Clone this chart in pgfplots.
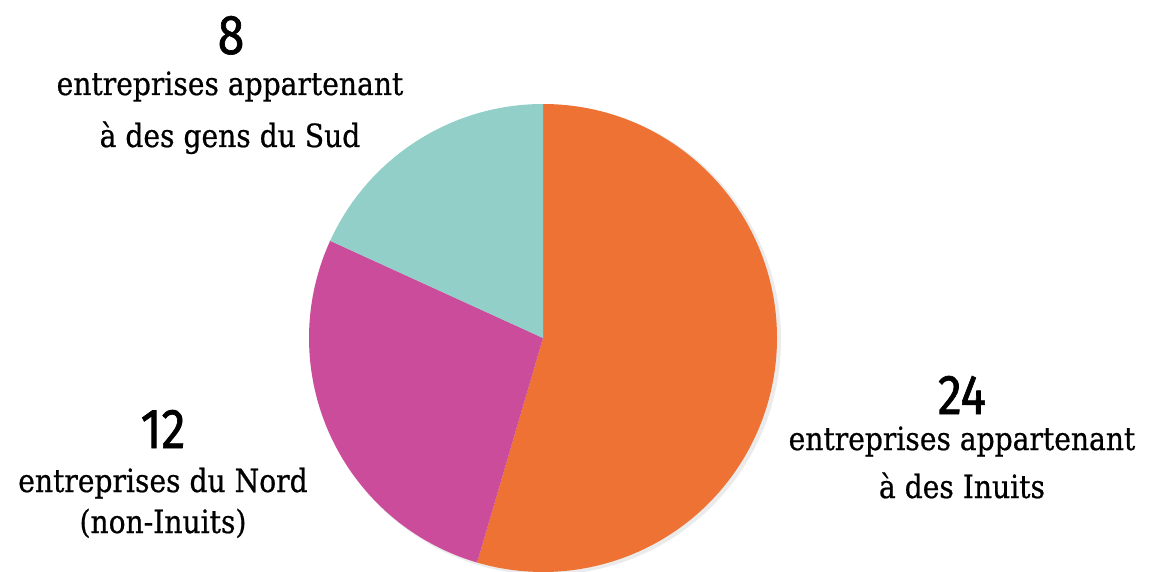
\documentclass[border=0pt]{standalone}
\usepackage{pgfplots}
\usepackage{pgfplotstable}
\pgfplotsset{compat=1.18}
\usepackage{fontspec}
\setmainfont{DejaVu Serif}[FakeStretch=0.88, FakeBold=0.6]
\newfontfamily\numfont{Fira Sans}[FakeStretch=0.86, FakeBold=1.2]

\definecolor{pieorange}{RGB}{237,114,52}
\definecolor{piemagenta}{RGB}{204,76,156}
\definecolor{pieteal}{RGB}{146,207,200}

% companies by ownership
\pgfplotstableread{
group value
inuits 24
nord 12
sud 8
}\piedata

\begin{document}
\begin{tikzpicture}
\pgfplotstablegetelem{0}{value}\of\piedata \let\vA\pgfplotsretval
\pgfplotstablegetelem{1}{value}\of\piedata \let\vB\pgfplotsretval
\pgfplotstablegetelem{2}{value}\of\piedata \let\vC\pgfplotsretval
\pgfmathsetmacro\tot{\vA+\vB+\vC}
\pgfmathsetmacro\aA{90-360*\vA/\tot}
\pgfmathsetmacro\aB{\aA-360*\vB/\tot}
\useasboundingbox (0,0) rectangle (1152pt,571pt);
\begin{axis}[
  at={(0,0)}, anchor=origin,
  x=1pt, y=1pt,
  xmin=0, xmax=1152, ymin=0, ymax=571,
  hide axis, clip=false,
]
% faint shadow behind the pie
\fill[black, opacity=0.08] (axis cs:546,231) circle[radius=235pt];
% pie, starting at 12 o'clock, clockwise
\fill[pieorange] (axis cs:543,233) -- (axis cs:543,467)
  arc[start angle=90, end angle=\aA, radius=234pt] -- cycle;
\fill[piemagenta] (axis cs:543,233) -- ++(\aA:234pt)
  arc[start angle=\aA, end angle=\aB, radius=234pt] -- cycle;
\fill[pieteal] (axis cs:543,233) -- ++(\aB:234pt)
  arc[start angle=\aB, end angle=-270, radius=234pt] -- cycle;

% labels
\node[anchor=base, font=\numfont\fontsize{56}{56}\selectfont] at (axis cs:231,517) {\vC};
\node[anchor=base, font=\fontsize{32}{32}\selectfont] at (axis cs:230,476) {entreprises appartenant};
\node[anchor=base, font=\fontsize{32}{32}\selectfont] at (axis cs:230,424) {à des gens du Sud};

\node[anchor=base, font=\numfont\fontsize{56}{56}\selectfont] at (axis cs:163,123) {\vB};
\node[anchor=base, font=\fontsize{32}{32}\selectfont] at (axis cs:163,79) {entreprises du Nord};
\node[anchor=base, font=\fontsize{32}{32}\selectfont] at (axis cs:163,38) {(non-Inuits)};

\node[anchor=base, font=\numfont\fontsize{56}{56}\selectfont] at (axis cs:962,157) {\vA};
\node[anchor=base, font=\fontsize{32}{32}\selectfont] at (axis cs:962,121) {entreprises appartenant};
\node[anchor=base, font=\fontsize{32}{32}\selectfont] at (axis cs:962,73) {à des Inuits};
\end{axis}
\end{tikzpicture}
\end{document}
